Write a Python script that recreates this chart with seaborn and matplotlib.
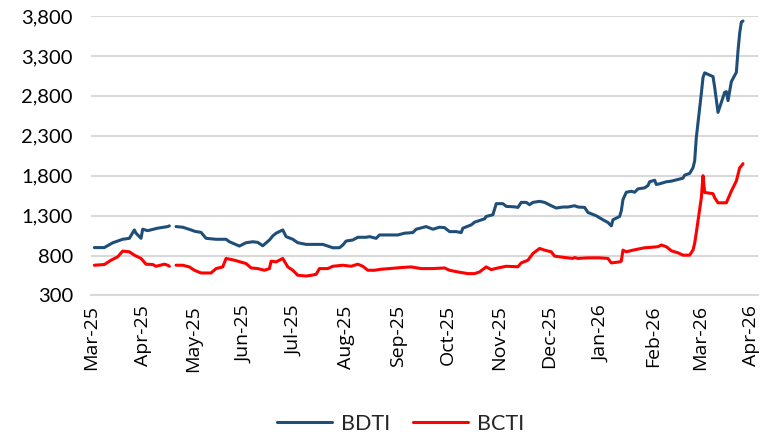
import numpy as np
import pandas as pd
import matplotlib
matplotlib.use('Agg')
import matplotlib.pyplot as plt
import matplotlib.dates as mdates
import seaborn as sns

# BDTI readings (date, index level); NaN marks the Easter gap
bdti_dates = ['2025-03-03', '2025-03-09', '2025-03-14', '2025-03-20', '2025-03-24', '2025-03-27',
              '2025-03-28', '2025-03-31', '2025-04-01', '2025-04-04', '2025-04-10', '2025-04-16',
              '2025-04-17', '2025-04-18', '2025-04-21', '2025-04-25', '2025-04-30', '2025-05-02',
              '2025-05-06', '2025-05-09', '2025-05-15', '2025-05-21', '2025-05-23', '2025-05-29',
              '2025-06-02', '2025-06-06', '2025-06-09', '2025-06-12', '2025-06-16', '2025-06-18',
              '2025-06-20', '2025-06-24', '2025-06-26', '2025-06-30', '2025-07-03', '2025-07-08',
              '2025-07-11', '2025-07-18', '2025-07-24', '2025-07-28', '2025-07-30', '2025-08-01',
              '2025-08-05', '2025-08-08', '2025-08-13', '2025-08-15', '2025-08-19', '2025-08-21',
              '2025-08-26', '2025-09-01', '2025-09-05', '2025-09-10', '2025-09-12', '2025-09-18',
              '2025-09-22', '2025-09-26', '2025-09-29', '2025-10-02', '2025-10-06', '2025-10-09',
              '2025-10-10', '2025-10-15', '2025-10-17', '2025-10-20', '2025-10-23', '2025-10-24',
              '2025-10-28', '2025-10-30', '2025-11-03', '2025-11-05', '2025-11-10', '2025-11-12',
              '2025-11-14', '2025-11-17', '2025-11-19', '2025-11-21', '2025-11-25', '2025-11-28',
              '2025-12-02', '2025-12-05', '2025-12-09', '2025-12-12', '2025-12-16', '2025-12-18',
              '2025-12-22', '2025-12-24', '2025-12-29', '2026-01-02', '2026-01-05', '2026-01-07',
              '2026-01-08', '2026-01-12', '2026-01-13', '2026-01-14', '2026-01-16', '2026-01-19',
              '2026-01-21', '2026-01-23', '2026-01-27', '2026-01-29', '2026-01-30', '2026-02-02',
              '2026-02-03', '2026-02-05', '2026-02-09', '2026-02-12', '2026-02-16', '2026-02-19',
              '2026-02-20', '2026-02-23', '2026-02-25', '2026-02-26', '2026-02-27', '2026-03-02',
              '2026-03-03', '2026-03-04', '2026-03-09', '2026-03-10', '2026-03-12', '2026-03-16',
              '2026-03-17', '2026-03-18', '2026-03-20', '2026-03-23', '2026-03-24', '2026-03-25',
              '2026-03-26', '2026-03-27']
bdti_values = [900, 900, 960, 1004, 1016, 1121,
               1080, 1016, 1130, 1112, 1143, 1163,
               1172, np.nan, 1163, 1155, 1121, 1105,
               1090, 1016, 1004, 1004, 973, 919,
               961, 973, 965, 923, 995, 1046,
               1080, 1121, 1037, 1004, 961, 940,
               940, 940, 898, 898, 932, 982,
               995, 1029, 1029, 1037, 1016, 1058,
               1058, 1058, 1080, 1088, 1130, 1163,
               1130, 1155, 1150, 1100, 1100, 1088,
               1143, 1184, 1218, 1239, 1260, 1290,
               1311, 1450, 1450, 1416, 1410, 1403,
               1466, 1466, 1437, 1466, 1479, 1466,
               1424, 1395, 1408, 1408, 1424, 1408,
               1403, 1340, 1298, 1248, 1214, 1172,
               1248, 1290, 1360, 1500, 1593, 1605,
               1593, 1635, 1648, 1677, 1724, 1744,
               1690, 1699, 1724, 1732, 1753, 1770,
               1807, 1829, 1900, 1985, 2280, 2830,
               3030, 3088, 3041, 2907, 2593, 2844,
               2853, 2740, 2978, 3095, 3368, 3586,
               3724, 3737]

# BCTI readings
bcti_dates = ['2025-03-03', '2025-03-09', '2025-03-13', '2025-03-17', '2025-03-20', '2025-03-24',
              '2025-03-27', '2025-03-31', '2025-04-03', '2025-04-07', '2025-04-09', '2025-04-14',
              '2025-04-16', '2025-04-17', '2025-04-18', '2025-04-21', '2025-04-25', '2025-04-29',
              '2025-05-02', '2025-05-06', '2025-05-12', '2025-05-15', '2025-05-19', '2025-05-21',
              '2025-05-26', '2025-06-02', '2025-06-05', '2025-06-09', '2025-06-13', '2025-06-16',
              '2025-06-17', '2025-06-20', '2025-06-24', '2025-06-27', '2025-06-30', '2025-07-03',
              '2025-07-08', '2025-07-11', '2025-07-14', '2025-07-16', '2025-07-21', '2025-07-24',
              '2025-07-30', '2025-08-04', '2025-08-08', '2025-08-11', '2025-08-14', '2025-08-18',
              '2025-08-22', '2025-08-27', '2025-09-03', '2025-09-09', '2025-09-15', '2025-09-22',
              '2025-09-29', '2025-10-02', '2025-10-07', '2025-10-13', '2025-10-17', '2025-10-20',
              '2025-10-24', '2025-10-27', '2025-10-31', '2025-11-05', '2025-11-12', '2025-11-14',
              '2025-11-18', '2025-11-21', '2025-11-25', '2025-11-28', '2025-12-02', '2025-12-04',
              '2025-12-10', '2025-12-15', '2025-12-16', '2025-12-18', '2025-12-24', '2025-12-31',
              '2026-01-05', '2026-01-07', '2026-01-12', '2026-01-13', '2026-01-14', '2026-01-16',
              '2026-01-20', '2026-01-23', '2026-01-27', '2026-01-30', '2026-02-04', '2026-02-06',
              '2026-02-09', '2026-02-12', '2026-02-16', '2026-02-19', '2026-02-23', '2026-02-25',
              '2026-02-26', '2026-02-27', '2026-03-02', '2026-03-03', '2026-03-04', '2026-03-09',
              '2026-03-10', '2026-03-12', '2026-03-17', '2026-03-20', '2026-03-23', '2026-03-25',
              '2026-03-26', '2026-03-27']
bcti_values = [679, 688, 742, 784, 856, 847,
               805, 764, 692, 688, 666, 692,
               679, 666, np.nan, 679, 679, 658,
               616, 582, 582, 637, 658, 764,
               742, 700, 645, 637, 616, 637,
               730, 721, 764, 658, 616, 553,
               544, 553, 565, 637, 637, 666,
               679, 666, 692, 666, 616, 616,
               629, 637, 650, 658, 637, 637,
               645, 616, 595, 574, 574, 595,
               658, 624, 645, 666, 660, 708,
               742, 826, 889, 868, 847, 793,
               776, 764, 776, 764, 772, 772,
               764, 708, 721, 730, 868, 847,
               868, 881, 898, 902, 911, 932,
               911, 860, 834, 805, 805, 870,
               953, 1090, 1524, 1800, 1590, 1575,
               1524, 1461, 1461, 1608, 1734, 1900,
               1922, 1951]

y_ticks = [300, 800, 1300, 1800, 2300, 2800, 3300, 3800]


def build_frame(dates, values, name):
    df = pd.DataFrame({'date': pd.to_datetime(dates), 'value': values})
    # split at the missing value so the line shows a gap
    df['seg'] = df['value'].isna().cumsum()
    df['series'] = name
    return df.dropna()


def plot_indices():
    data = pd.concat([build_frame(bdti_dates, bdti_values, 'BDTI'),
                      build_frame(bcti_dates, bcti_values, 'BCTI')], ignore_index=True)

    sns.set_style('white')
    plt.rcParams['font.family'] = ['Lato', 'DejaVu Sans']

    fig = plt.figure(figsize=(7.66, 4.37), dpi=100)
    ax = fig.add_axes([0.1188, 0.3238, 0.8708, 0.6396])

    sns.lineplot(data=data, x='date', y='value', hue='series', units='seg', estimator=None,
                 palette={'BDTI': '#1F4E79', 'BCTI': '#FF0000'}, linewidth=2.2, ax=ax)

    ax.set_xlim(pd.Timestamp('2025-03-01'), pd.Timestamp('2026-04-05'))
    ax.set_ylim(300, 3800)
    ax.set_yticks(y_ticks)
    ax.set_yticklabels([f'{v:,}' for v in y_ticks])
    ax.yaxis.grid(True, color='#D9D9D9', linewidth=1.5)
    ax.set_axisbelow(True)

    ax.xaxis.set_major_locator(mdates.MonthLocator())
    ax.xaxis.set_major_formatter(mdates.DateFormatter('%b-%y'))
    for lbl in ax.get_xticklabels():
        lbl.set_rotation(90)
        lbl.set_fontfamily('Open Sans')
        lbl.set_fontsize(14)
        lbl.set_color('#000000')

    ax.tick_params(axis='x', direction='out', length=4, width=1.2, color='#D9D9D9', pad=3)
    ax.tick_params(axis='y', length=0, pad=13, labelsize=14.5, labelcolor='#000000')

    for side in ['left', 'top', 'right']:
        ax.spines[side].set_visible(False)
    ax.spines['bottom'].set_color('#D9D9D9')
    ax.spines['bottom'].set_linewidth(1.5)

    ax.set_xlabel('')
    ax.set_ylabel('')

    handles, labels = ax.get_legend_handles_labels()
    ax.get_legend().remove()
    fig.legend(handles, labels, loc='center', bbox_to_anchor=(0.523, 0.03), ncol=2,
               frameon=False, fontsize=15.5, handlelength=2.55, columnspacing=1.1,
               handletextpad=0.4)

    fig.savefig('out.png', dpi=100)


def main():
    plot_indices()


if __name__ == "__main__":
    main()
